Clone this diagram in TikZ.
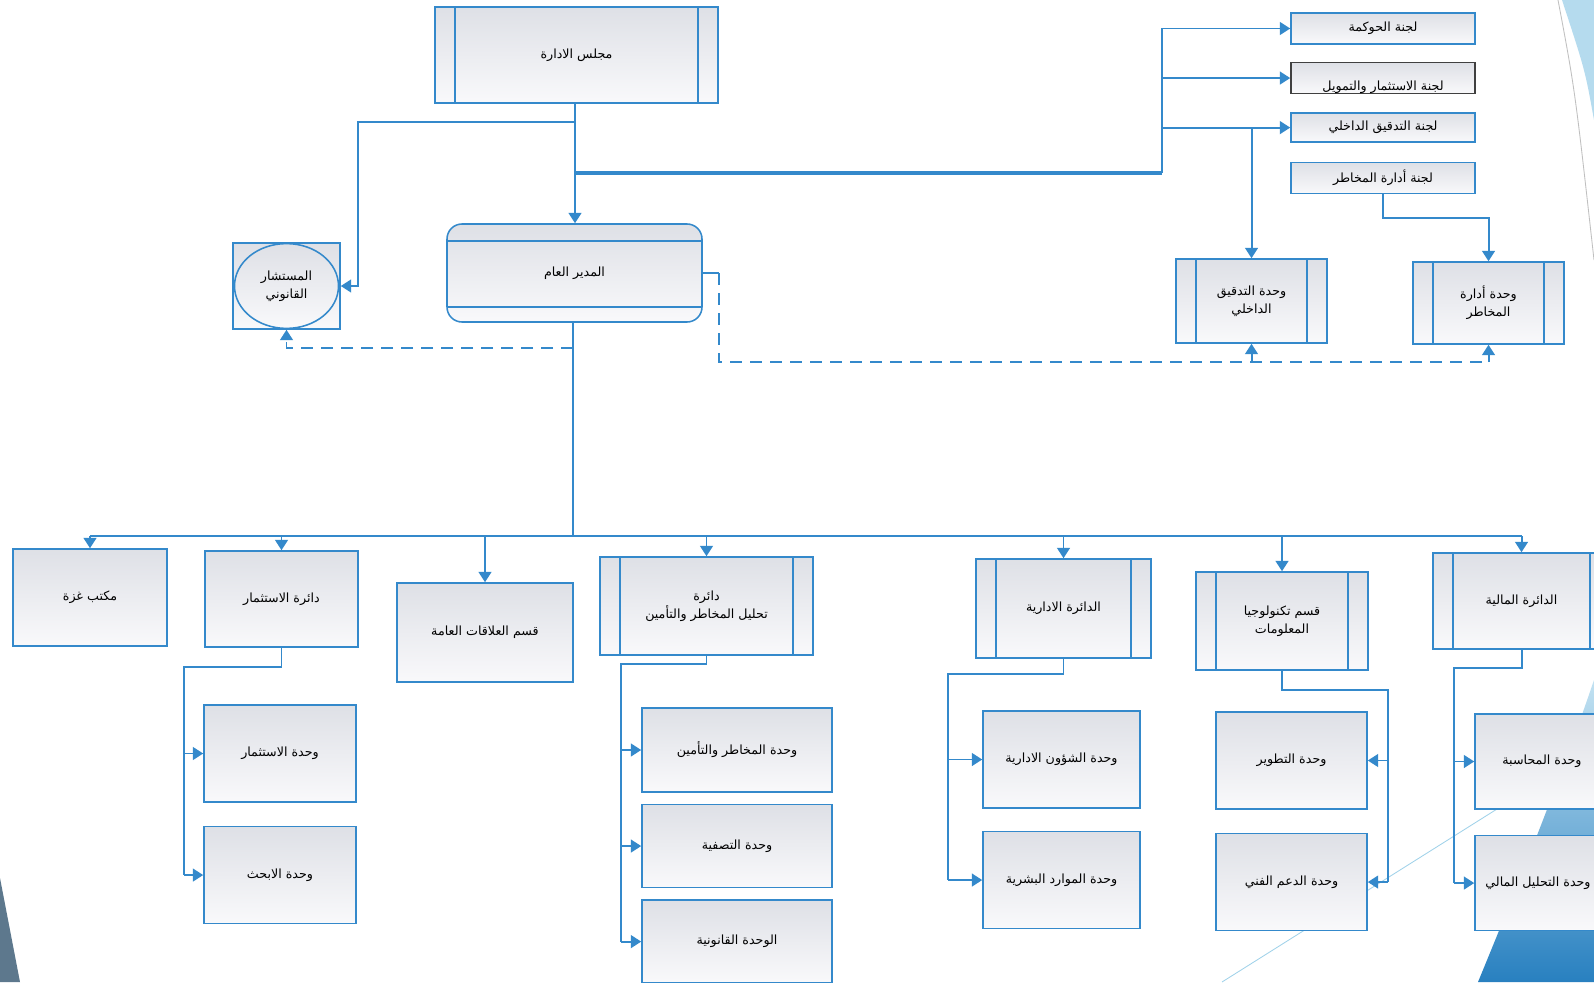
\documentclass[tikz,border=0pt]{standalone}
\usepackage{fontspec}
\newfontfamily\arabicfont[Script=Arabic]{DejaVu Sans}
\TeXXeTstate=1
\usetikzlibrary{arrows.meta,positioning}
\definecolor{orgblue}{RGB}{52,137,203}
\definecolor{boxtop}{RGB}{222,224,230}
\definecolor{boxbot}{RGB}{249,249,251}
\definecolor{decoblue}{RGB}{120,190,225}
\definecolor{decodark}{RGB}{40,128,192}
\newcommand{\arb}[1]{\beginR #1\endR}

\begin{document}
\begin{tikzpicture}[
        x=0.25mm, y=-0.25mm,
        box/.style={
            draw=orgblue,
            line width=1.1pt,
            top color=boxtop,
            bottom color=boxbot,
            inner sep=1mm,
            align=center,
            font=\arabicfont\fontsize{9}{13}\selectfont
        },
        sz/.style 2 args={
            minimum width=#1,
            minimum height=#2
        },
        bars/.style={
            path picture={
                \draw[orgblue, line width=1.1pt]
                    ([xshift=5mm]path picture bounding box.north west) --
                    ([xshift=5mm]path picture bounding box.south west)
                    ([xshift=-5mm]path picture bounding box.north east) --
                    ([xshift=-5mm]path picture bounding box.south east);
            }
        },
        hbars/.style={
            rounded corners=3.75mm,
            path picture={
                \draw[orgblue, line width=1.1pt]
                    ([yshift=-4.25mm]path picture bounding box.north west) --
                    ([yshift=-4.25mm]path picture bounding box.north east)
                    ([yshift=3.75mm]path picture bounding box.south west) --
                    ([yshift=3.75mm]path picture bounding box.south east);
            }
        },
        oval/.style={
            path picture={
                \draw[orgblue, line width=1.1pt]
                    (path picture bounding box.center) ellipse (13mm and 10.6mm);
            }
        },
        link/.style={
            draw=orgblue,
            line width=1.4pt
        },
        arr/.style={
            link,
            -{Triangle[width=3.2mm,length=2.6mm]}
        },
        dashlink/.style={
            link,
            dash pattern=on 3mm off 2mm
        },
        dasharr/.style={
            dashlink,
            -{Triangle[width=3.2mm,length=2.6mm]}
        }
    ]

        \fill[white] (0,0) rectangle (1594,982);
        \useasboundingbox (0,0) rectangle (1594,982);

        % slide decoration
        \fill[decoblue!55] (1562,0) -- (1594,0) -- (1594,120)
            .. controls (1585,70) .. (1562,0) -- cycle;
        \draw[black!25, line width=0.6pt] (1558,0) .. controls (1575,90) .. (1594,260);
        \shade[top color=decoblue!45, bottom color=decodark]
            (1594,680) .. controls (1560,780) and (1520,880) .. (1478,982)
            -- (1594,982) -- cycle;
        \draw[decoblue!70, line width=0.6pt] (1222,982) -- (1594,748);
        \fill[orgblue!45!black!70] (0,878) -- (20,982) -- (0,982) -- cycle;

        % top level
        \node[box, bars, sz={70.75mm}{24mm}] (board) at (576.5,55)
            {\arb{مجلس الادارة}};

        \node[box, hbars, sz={63.75mm}{24.5mm}] (gm) at (574.5,273)
            {\arb{المدير العام}};

        \node[box, oval, sz={26.75mm}{21.5mm}] (adv) at (286.5,286)
            {\arb{المستشار}\\\arb{القانوني}};

        % committees
        \node[box, sz={46mm}{7.75mm}] (gov) at (1383,28.5)
            {\arb{لجنة الحوكمة}};

        \node[box, sz={46mm}{7.75mm}, draw=black!75, below=4.25mm of gov] (invc)
            {\raisebox{-3mm}[0pt][0pt]{\arb{لجنة الاستثمار والتمويل}}};

        \node[box, sz={46mm}{7.25mm}, below=4.5mm of invc] (audc)
            {\arb{لجنة التدقيق الداخلي}};

        \node[box, sz={46mm}{7.75mm}, below=4.75mm of audc] (riskc)
            {\arb{لجنة أدارة المخاطر}};

        \node[box, bars, sz={37.75mm}{21mm}] (audu) at (1251.5,301)
            {\arb{وحدة التدقيق}\\\arb{الداخلي}};

        \node[box, bars, sz={37.75mm}{20.5mm}] (risku) at (1488.5,303)
            {\arb{وحدة أدارة}\\\arb{المخاطر}};

        % departments
        \node[box, sz={38.5mm}{24.25mm}] (gaza) at (90,597.5)
            {\arb{مكتب غزة}};

        \node[box, sz={38.25mm}{24mm}] (invd) at (281.5,599)
            {\arb{دائرة  الاستثمار}};

        \node[box, sz={44mm}{24.75mm}] (prd) at (485,632.5)
            {\arb{قسم العلاقات العامة}};

        \node[box, bars, sz={53.25mm}{24.5mm}] (riskd) at (706.5,606)
            {\arb{دائرة}\\\arb{تحليل المخاطر والتأمين}};

        \node[box, bars, sz={43.75mm}{24.75mm}] (admd) at (1063.5,608.5)
            {\arb{الدائرة الادارية}};

        \node[box, bars, sz={43mm}{24.5mm}] (itd) at (1282,621)
            {\arb{قسم تكنولوجيا}\\\arb{المعلومات}};

        \node[box, bars, sz={44.25mm}{24mm}] (find) at (1521.5,601)
            {\arb{الدائرة المالية}};

        % units
        \node[box, sz={38mm}{24.25mm}] (invu1) at (280,753.5)
            {\arb{وحدة الاستثمار}};
        \node[box, sz={38mm}{24.25mm}, below=5.75mm of invu1] (invu2)
            {\arb{وحدة الابحث}};

        \node[box, sz={47.5mm}{21mm}] (risku1) at (737,750)
            {\arb{وحدة المخاطر والتأمين}};
        \node[box, sz={47.5mm}{20.75mm}, below=2.75mm of risku1] (risku2)
            {\arb{وحدة التصفية}};
        \node[box, sz={47.5mm}{20.75mm}, below=2.75mm of risku2] (risku3)
            {\arb{الوحدة القانونية}};

        \node[box, sz={39.25mm}{24.25mm}] (admu1) at (1061.5,759.5)
            {\arb{وحدة الشؤون الادارية}};
        \node[box, sz={39.25mm}{24.25mm}, below=5.5mm of admu1] (admu2)
            {\arb{وحدة الموارد البشرية}};

        \node[box, sz={37.75mm}{24.25mm}] (itu1) at (1291.5,760.5)
            {\arb{وحدة التطوير}};
        \node[box, sz={37.75mm}{24.25mm}, below=5.75mm of itu1] (itu2)
            {\arb{وحدة الدعم الفني}};

        \node[box, sz={37.5mm}{23.75mm}] (finu1) at (1550,761.5)
            {\arb{وحدة المحاسبة}\hspace{4mm}};
        \node[box, sz={37.5mm}{23.75mm}, below=6.25mm of finu1] (finu2)
            {\arb{وحدة التحليل المالي}\hspace{6mm}};

        % board and general manager
        \coordinate (jadv) at (575,122);
        \coordinate (jc) at (1162,173);
        \draw[arr] (board.south -| jadv) -- (gm.north -| jadv);
        \draw[arr] (jadv) -| ([xshift=4.25mm]adv.east) -- (adv.east);
        \draw[link, line width=2.6pt] (jadv |- jc) -- (jc);
        \draw[link] (jc) -- (jc |- gov.west);
        \foreach \c in {gov,invc,audc}
            \draw[arr] (jc |- \c.west) -- (\c.west);
        \draw[arr] (audu.north |- audc.west) -- (audu.north);
        \draw[arr] (riskc.south) -- ++(0,24) -| (risku.north);

        % dashed links
        \coordinate (dl) at (573,348);
        \coordinate (dr) at (719,362);
        \draw[dasharr] (dl) -| (adv.south);
        \draw[link] (gm.east) -- (gm.east -| dr);
        \draw[dashlink] (gm.east -| dr) -- (dr) -- (dr -| risku.south);
        \draw[dasharr] (dr -| audu.south) -- (audu.south);
        \draw[dasharr] (dr -| risku.south) -- (risku.south);

        % departments bus
        \coordinate (bus) at (573,536);
        \draw[link] (gm.south -| bus) -- (bus);
        \draw[link] (gaza.north |- bus) -- (find.north |- bus);
        \foreach \d in {gaza,invd,prd,riskd,admd,itd,find}
            \draw[arr] (\d.north |- bus) -- (\d.north);

        % units
        \coordinate (iv) at (184,667);
        \draw[link] (invd.south) |- (iv) -- (iv |- invu2.west);
        \foreach \u in {invu1,invu2}
            \draw[arr] (iv |- \u.west) -- (\u.west);

        \coordinate (rv) at (621,664);
        \draw[link] (riskd.south) |- (rv) -- (rv |- risku3.west);
        \foreach \u in {risku1,risku2,risku3}
            \draw[arr] (rv |- \u.west) -- (\u.west);

        \coordinate (av) at (948,674);
        \draw[link] (admd.south) |- (av) -- (av |- admu2.west);
        \foreach \u in {admu1,admu2}
            \draw[arr] (av |- \u.west) -- (\u.west);

        \coordinate (tv) at (1388,690);
        \draw[link] (itd.south) |- (tv) -- (tv |- itu2.east);
        \foreach \u in {itu1,itu2}
            \draw[arr] (tv |- \u.east) -- (\u.east);

        \coordinate (fv) at (1454,668);
        \draw[link] (find.south) |- (fv) -- (fv |- finu2.west);
        \foreach \u in {finu1,finu2}
            \draw[arr] (fv |- \u.west) -- (\u.west);

    \end{tikzpicture}
\end{document}
